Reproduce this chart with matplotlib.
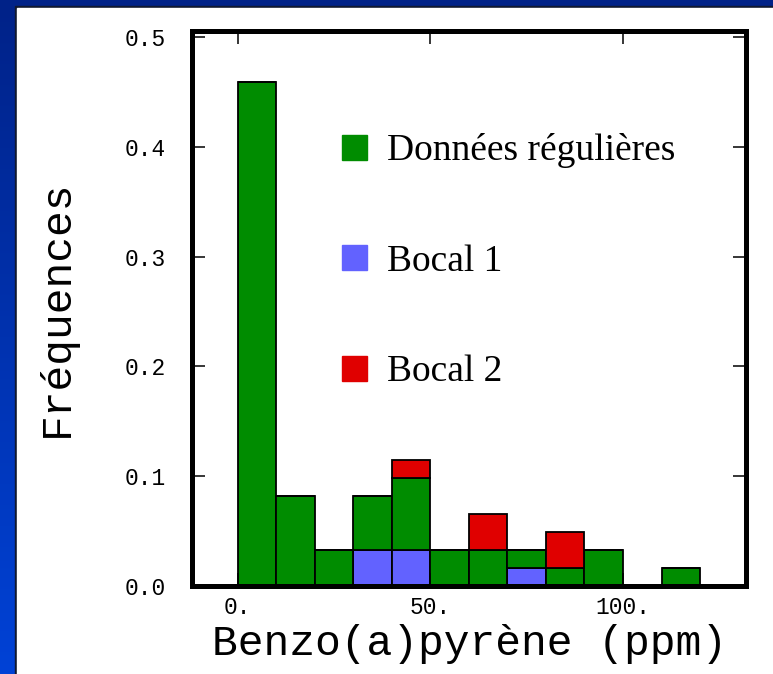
import numpy as np
import matplotlib.pyplot as plt
from matplotlib.patches import Rectangle
from matplotlib.lines import Line2D

# bins de 10 ppm, effectifs (N = 61 observations)
bords = [0, 10, 20, 30, 40, 50, 60, 70, 80, 90, 100, 110, 120]
n_regulieres = [28, 5, 2, 3, 4, 2, 2, 1, 1, 2, 0, 1]
n_bocal1 = [0, 0, 0, 2, 2, 0, 0, 1, 0, 0, 0, 0]
n_bocal2 = [0, 0, 0, 0, 1, 0, 2, 0, 2, 0, 0, 0]
total = 61

noms = ['Données régulières', 'Bocal 1', 'Bocal 2']
couleurs = ['#008c00', '#6262ff', '#e00000']

f_reg = np.array(n_regulieres) / total
f_b1 = np.array(n_bocal1) / total
f_b2 = np.array(n_bocal2) / total
gauche = np.array(bords[:-1])
largeur = np.diff(bords)

fig = plt.figure(figsize=(7.73, 6.74), dpi=100)

# fond bleu dégradé + panneau blanc
fond = fig.add_axes([0, 0, 1, 1], zorder=-10)
grad = np.linspace(0, 1, 256).reshape(-1, 1)
c_haut = np.array([0, 34, 136]) / 255
c_bas = np.array([0, 66, 214]) / 255
img = c_haut + (c_bas - c_haut) * grad[:, :, None]
fond.imshow(img, aspect='auto', extent=[0, 1, 0, 1])
fond.add_patch(Rectangle((0.0195, 0), 1, 0.9911, color='#101830', zorder=1))
fond.add_patch(Rectangle((0.0215, 0), 1, 0.9885, color='white', zorder=2))
fond.set_xlim(0, 1)
fond.set_ylim(0, 1)
fond.axis('off')

ax = fig.add_axes([0.2484, 0.1306, 0.7167, 0.8234])
ax.bar(gauche, f_b1, width=largeur, align='edge', color=couleurs[1],
       edgecolor='black', linewidth=1.3)
ax.bar(gauche, f_reg, width=largeur, bottom=f_b1, align='edge',
       color=couleurs[0], edgecolor='black', linewidth=1.3)
ax.bar(gauche, f_b2, width=largeur, bottom=f_b1 + f_reg, align='edge',
       color=couleurs[2], edgecolor='black', linewidth=1.3)

ax.set_xlim(-11.8, 131.9)
ax.set_ylim(0, 0.5055)
ax.set_xticks([0, 50, 100])
ax.set_xticklabels(['0.', '50.', '100.'])
ax.set_yticks([0.0, 0.1, 0.2, 0.3, 0.4, 0.5])
ax.set_yticklabels(['0.0', '0.1', '0.2', '0.3', '0.4', '0.5'])

for s in ax.spines.values():
    s.set_linewidth(3.6)
ax.tick_params(direction='in', length=9.5, width=1.1, top=True, right=True,
               labelsize=16.5, labelfontfamily='Liberation Mono')
ax.tick_params(axis='y', pad=19)
ax.tick_params(axis='x', pad=7)

ax.set_xlabel('Benzo(a)pyrène (ppm)', family='Liberation Mono', fontsize=31, labelpad=4)
ax.set_ylabel('Fréquences', family='Liberation Mono', fontsize=31, labelpad=34)

poignees = [Line2D([], [], marker='s', linestyle='none', markersize=18,
                   markerfacecolor=c, markeredgecolor=c) for c in couleurs]
leg = ax.legend(poignees, noms, loc='upper left', bbox_to_anchor=(0.23, 0.85),
                frameon=False, prop={'family': 'Liberation Serif', 'size': 27},
                handlelength=0.85, handletextpad=0.45, labelspacing=2.03,
                borderpad=0)

fig.savefig('out.png', dpi=100)
